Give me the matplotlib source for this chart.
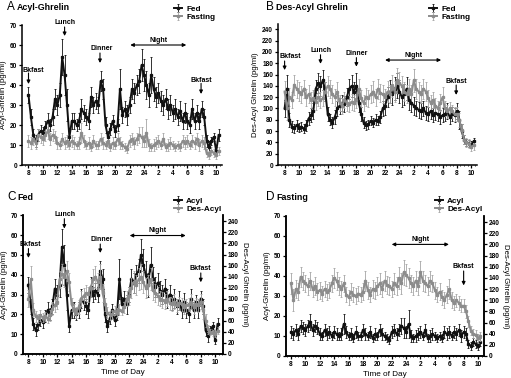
import numpy as np
import matplotlib.pyplot as plt
from matplotlib.ticker import MultipleLocator

plt.rcParams['font.family'] = ['Liberation Sans', 'DejaVu Sans']
plt.rcParams['font.weight'] = 'bold'

# sampling every 20 min, from 8:00 to 10:20 next day
t = 8 + np.arange(80) / 3.0

fed_acyl = [35, 24, 15, 12, 15, 17, 16, 19, 22, 20,
            24, 33, 30, 35, 54, 45, 30, 14, 22, 22,
            20, 22, 28, 26, 24, 22, 34, 30, 32, 30,
            42, 38, 20, 14, 18, 22, 17, 20, 38, 25,
            28, 25, 30, 38, 36, 40, 42, 50, 45, 40,
            35, 45, 38, 34, 36, 32, 30, 33, 28, 30,
            26, 28, 24, 27, 22, 26, 22, 20, 28, 22,
            26, 22, 28, 24, 12, 9, 12, 14, 7, 15]
fed_acyl_err = [4, 4, 3, 3, 3, 3, 3, 3, 4, 3,
                4, 5, 5, 6, 9, 10, 8, 3, 4, 4,
                3, 4, 5, 4, 4, 4, 5, 4, 4, 4,
                5, 5, 4, 3, 3, 3, 3, 3, 10, 4,
                4, 5, 4, 5, 5, 5, 6, 8, 8, 7,
                6, 9, 6, 5, 5, 5, 5, 5, 5, 5,
                4, 5, 4, 5, 4, 5, 4, 4, 5, 4,
                4, 4, 4, 4, 3, 3, 2, 2, 2, 3]

fast_acyl = [12, 11, 13, 11, 15, 14, 13, 15, 17, 13,
             15, 14, 11, 10, 13, 11, 12, 10, 12, 11,
             10, 11, 16, 12, 10, 11, 9, 12, 10, 10,
             13, 11, 10, 12, 9, 11, 10, 13, 11, 10,
             9, 8, 12, 13, 11, 13, 15, 14, 12, 16,
             10, 9, 10, 11, 12, 10, 13, 9, 10, 11,
             10, 9, 10, 9, 12, 11, 12, 10, 12, 11,
             13, 10, 12, 11, 6, 5, 7, 6, 5, 7]
fast_acyl_err = [3, 3, 3, 3, 3, 3, 3, 3, 4, 3,
                 3, 3, 3, 2, 3, 3, 3, 2, 3, 3,
                 2, 3, 5, 3, 2, 3, 2, 3, 2, 2,
                 3, 3, 2, 3, 2, 3, 2, 3, 3, 2,
                 2, 2, 3, 3, 3, 3, 4, 5, 3, 7,
                 3, 2, 3, 3, 3, 2, 3, 2, 3, 3,
                 2, 2, 2, 2, 3, 3, 3, 2, 3, 3,
                 3, 3, 3, 3, 2, 2, 2, 2, 2, 2]

fed_des = [100, 135, 80, 68, 65, 70, 66, 68, 64, 70,
           82, 88, 95, 135, 145, 140, 150, 130, 90, 80,
           75, 85, 100, 105, 110, 108, 120, 135, 140, 130,
           140, 110, 90, 75, 70, 72, 78, 75, 80, 78,
           85, 100, 105, 120, 130, 125, 135, 140, 130, 120,
           125, 135, 115, 110, 105, 100, 98, 95, 100, 92,
           90, 95, 88, 92, 90, 85, 88, 90, 95, 85,
           90, 88, 95, 80, 60, 45, 40, 38, 36, 42]
fed_des_err = [15, 25, 12, 10, 8, 10, 8, 8, 8, 10,
               12, 12, 14, 16, 18, 18, 18, 16, 12, 10,
               10, 12, 14, 14, 14, 14, 16, 18, 20, 16,
               22, 16, 12, 10, 8, 8, 8, 8, 10, 8,
               10, 14, 16, 18, 20, 18, 20, 22, 20, 18,
               18, 20, 18, 16, 16, 14, 14, 14, 14, 12,
               12, 14, 12, 12, 12, 12, 12, 12, 14, 12,
               12, 12, 14, 16, 12, 8, 6, 6, 6, 6]

fast_des = [130, 100, 120, 115, 142, 135, 130, 125, 135, 120,
            125, 115, 118, 112, 120, 115, 118, 130, 140, 135,
            125, 120, 130, 110, 105, 115, 110, 108, 112, 110,
            115, 135, 118, 110, 120, 118, 125, 130, 120, 135,
            128, 125, 120, 130, 125, 140, 130, 150, 145, 140,
            130, 125, 135, 125, 150, 135, 130, 125, 135, 130,
            118, 110, 115, 105, 100, 110, 120, 100, 95, 100,
            95, 90, 90, 80, 62, 45, 40, 38, 32, 35]
fast_des_err = [18, 20, 16, 15, 18, 16, 16, 15, 16, 15,
                16, 15, 15, 14, 15, 14, 14, 16, 18, 16,
                16, 15, 16, 14, 14, 15, 14, 14, 14, 14,
                15, 18, 15, 14, 16, 15, 16, 18, 15, 18,
                16, 16, 15, 18, 16, 20, 18, 22, 20, 18,
                16, 16, 18, 16, 20, 18, 16, 16, 18, 16,
                15, 14, 15, 14, 14, 15, 18, 14, 12, 12,
                12, 12, 12, 12, 10, 8, 8, 8, 8, 8]

hour_ticks = list(range(8, 35, 2))
hour_labels = [str(h if h <= 24 else h - 24) for h in hour_ticks]

BLACK = '#111111'
GRAY = '#8c8c8c'
GRAY_ERR = '#a5a5a5'
FS_TICK = 4.7
FS_LAB = 5.6
FS_ANN = 5.0

W, H = 511, 378
fig = plt.figure(figsize=(W / 100, H / 100), dpi=100)


def px_axes(l, r, top, b):
    return fig.add_axes([l / W, 1 - b / H, (r - l) / W, (b - top) / H])


def style(ax, xlim, right=False):
    ax.set_xlim(*xlim)
    ax.set_xticks(hour_ticks)
    ax.set_xticklabels(hour_labels)
    ax.xaxis.set_minor_locator(MultipleLocator(0.5))
    ax.spines['top'].set_visible(False)
    if not right:
        ax.spines['right'].set_visible(False)
    for s in ax.spines.values():
        s.set_linewidth(1.1)
    ax.tick_params(labelsize=FS_TICK, length=2, width=0.9, pad=1.5)
    ax.tick_params(which='minor', length=1, width=0.6)


def series(ax, y, e, color, ecolor, label):
    return ax.errorbar(t, y, yerr=e, fmt='-s', color=color, ecolor=ecolor,
                       ms=1.4, lw=1.4, elinewidth=0.6, capsize=1.0,
                       capthick=0.6, label=label, clip_on=False)


def arrow(ax, x, y0, y1):
    ax.annotate('', xy=(x, y1), xytext=(x, y0), annotation_clip=False,
                arrowprops=dict(arrowstyle='-|>', lw=0.8, color='k',
                                mutation_scale=5, shrinkA=0, shrinkB=0))


def night(ax, x0, x1, y, ty):
    ax.annotate('', xy=(x1, y), xytext=(x0, y), annotation_clip=False,
                arrowprops=dict(arrowstyle='<|-|>', lw=0.8, color='k',
                                mutation_scale=5, shrinkA=0, shrinkB=0))
    ax.text((x0 + x1) / 2, ty, 'Night', ha='center', va='center', fontsize=FS_ANN)


def label(ax, x, y, s):
    ax.text(x, y, s, ha='center', va='center', fontsize=FS_ANN, clip_on=False)


def legend(ax, handles, names, x, y):
    ax.legend(handles, names, loc='upper left', bbox_to_anchor=(x / W, 1 - y / H),
              bbox_transform=fig.transFigure, frameon=False, fontsize=FS_LAB + 0.3,
              handlelength=1.0, handletextpad=0.5, labelspacing=0.05,
              borderpad=0, borderaxespad=0)


def title(x, y, letter, text):
    fig.text(x / W, 1 - y / H, letter, fontsize=8.5, fontweight='normal', va='center')
    fig.text((x + 10) / W, 1 - y / H, text, fontsize=6.4, va='center')


# ---- A: Acyl-Ghrelin
axA = px_axes(22, 222, 25, 165)
hf = series(axA, fed_acyl, fed_acyl_err, BLACK, BLACK, 'Fed')
hs = series(axA, fast_acyl, fast_acyl_err, GRAY, GRAY_ERR, 'Fasting')
axA.set_ylim(0, 70)
axA.yaxis.set_major_locator(MultipleLocator(10))
axA.set_ylabel('Acyl-Ghrelin (pg/ml)', fontsize=FS_LAB, labelpad=2)
style(axA, (7.1, 34.8))
label(axA, 8.7, 47.5, 'Bkfast'); arrow(axA, 8.0, 46, 40.5)
label(axA, 13.1, 71.5, 'Lunch'); arrow(axA, 13.0, 69, 64.5)
label(axA, 18.2, 58.3, 'Dinner'); arrow(axA, 17.9, 56, 51)
night(axA, 22.1, 29.85, 60, 62.5)
label(axA, 32.0, 42.5, 'Bkfast'); arrow(axA, 31.9, 40.8, 35.5)
legend(axA, [hf, hs], ['Fed', 'Fasting'], 174, 5)
title(7, 7.5, 'A', 'Acyl-Ghrelin')

# ---- B: Des-Acyl Ghrelin
axB = px_axes(278, 477, 23.7, 165)
hf = series(axB, fed_des, fed_des_err, BLACK, BLACK, 'Fed')
hs = series(axB, fast_des, fast_des_err, GRAY, GRAY_ERR, 'Fasting')
axB.set_ylim(0, 250)
axB.set_yticks(range(0, 241, 20))
axB.set_ylabel('Des-Acyl Ghrelin (pg/ml)', fontsize=FS_LAB, labelpad=2)
style(axB, (7.08, 34.8))
label(axB, 8.8, 192, 'Bkfast'); arrow(axB, 8.0, 184, 168)
label(axB, 13.1, 202, 'Lunch'); arrow(axB, 13.0, 195, 179)
label(axB, 18.0, 197.5, 'Dinner'); arrow(axB, 18.0, 190, 174)
night(axB, 22.0, 29.8, 185.7, 193)
label(axB, 31.9, 147.4, 'Bkfast'); arrow(axB, 31.9, 141.5, 124)
legend(axB, [hf, hs], ['Fed', 'Fasting'], 429, 5)
title(266, 7.5, 'B', 'Des-Acyl Ghrelin')

# ---- C: Fed
axC = px_axes(22.7, 222.7, 215.3, 354)
axC2 = axC.twinx()
ha = series(axC, fed_acyl, fed_acyl_err, BLACK, BLACK, 'Acyl')
hd = series(axC2, fed_des, fed_des_err, GRAY, GRAY_ERR, 'Des-Acyl')
axC.set_ylim(0, 70)
axC.yaxis.set_major_locator(MultipleLocator(10))
axC2.set_ylim(0, 251)
axC2.set_yticks(range(0, 241, 20))
axC.set_ylabel('Acyl-Ghrelin (pg/ml)', fontsize=FS_LAB, labelpad=2)
axC2.set_ylabel('Des-Acyl Ghrelin (pg/ml)', fontsize=FS_LAB, rotation=270, labelpad=7)
axC.set_xlabel('Time of Day', fontsize=FS_LAB + 0.3, labelpad=2)
style(axC, (7.2, 35.05), right=True)
style(axC2, (7.2, 35.05), right=True)
label(axC, 8.2, 55.5, 'Bkfast'); arrow(axC, 8.0, 53.2, 48.5)
label(axC, 13.1, 70.4, 'Lunch'); arrow(axC, 13.0, 68.3, 63.3)
label(axC, 18.2, 57.7, 'Dinner'); arrow(axC, 18.0, 55.5, 51)
night(axC, 22.1, 29.9, 59.8, 62.5)
label(axC, 32.0, 43.4, 'Bkfast'); arrow(axC, 32.0, 40.9, 36.2)
legend(axC2, [ha, hd], ['Acyl', 'Des-Acyl'], 174, 197)
title(7, 197, 'C', 'Fed')

# ---- D: Fasting
axD = px_axes(285.7, 484, 216, 356)
axD2 = axD.twinx()
ha = series(axD, fast_acyl, fast_acyl_err, BLACK, BLACK, 'Acyl')
hd = series(axD2, fast_des, fast_des_err, GRAY, GRAY_ERR, 'Des-Acyl')
axD.set_ylim(0, 70)
axD.yaxis.set_major_locator(MultipleLocator(10))
axD2.set_ylim(0, 251)
axD2.set_yticks(range(0, 241, 20))
axD.set_ylabel('Acyl-Ghrelin (pg/ml)', fontsize=FS_LAB, labelpad=2)
axD2.set_ylabel('Des-Acyl Ghrelin (pg/ml)', fontsize=FS_LAB, rotation=270, labelpad=7)
axD.set_xlabel('Time of Day', fontsize=FS_LAB + 0.3, labelpad=2)
style(axD, (7.26, 34.83), right=True)
style(axD2, (7.26, 34.83), right=True)
night(axD, 22.0, 29.95, 55.8, 58.3)
label(axD, 32.0, 44.7, 'Bkfast'); arrow(axD, 32.0, 42.5, 35.3)
legend(axD2, [ha, hd], ['Acyl', 'Des-Acyl'], 435, 197)
title(266, 197, 'D', 'Fasting')

fig.savefig('out.png', dpi=100)
